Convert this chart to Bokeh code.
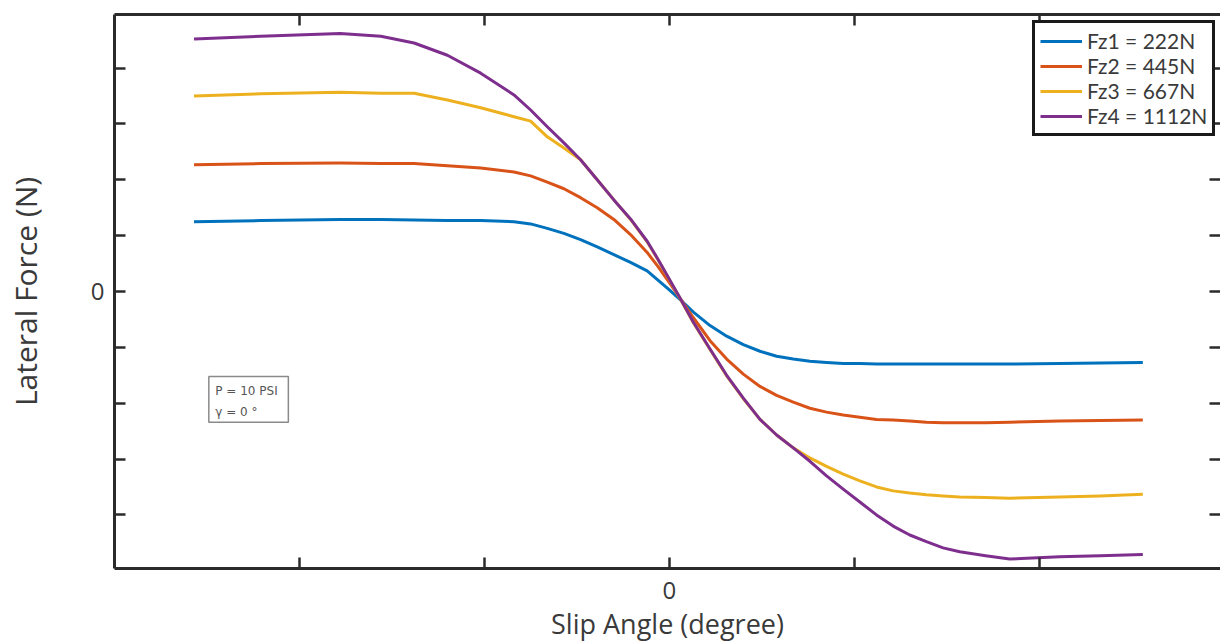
from bokeh.plotting import figure
from bokeh.models import Legend, LegendItem, LinearAxis, FixedTicker, BoxAnnotation, Label, Range1d
from bokeh.embed import file_html
from bokeh.resources import INLINE

# ---- data (slip angle and lateral force, in tick units; only 0 is labelled) ----
slip_angle = [-2.57, -2.21, -1.78, -1.56, -1.38, -1.20, -1.02, -0.84, -0.75, -0.66,
              -0.57, -0.48, -0.39, -0.30, -0.21, -0.12, -0.06, 0.00, 0.06, 0.13,
              0.22, 0.31, 0.40, 0.49, 0.58, 0.67, 0.76, 0.85, 0.94, 1.03,
              1.12, 1.21, 1.30, 1.39, 1.48, 1.57, 1.71, 1.84, 2.11, 2.33, 2.56]
fz1 = [1.25, 1.27, 1.29, 1.29, 1.28, 1.27, 1.27, 1.25, 1.21, 1.13,
       1.04, 0.93, 0.80, 0.66, 0.52, 0.37, 0.20, 0.03, -0.15, -0.37,
       -0.61, -0.80, -0.95, -1.07, -1.16, -1.21, -1.25, -1.27, -1.29, -1.29,
       -1.30, -1.30, -1.30, -1.30, -1.30, -1.30, -1.30, -1.30, -1.29, -1.28, -1.27]
fz2 = [2.27, 2.29, 2.30, 2.29, 2.29, 2.25, 2.21, 2.14, 2.07, 1.96,
       1.84, 1.68, 1.50, 1.29, 1.02, 0.70, 0.44, 0.16, -0.13, -0.47,
       -0.88, -1.21, -1.48, -1.70, -1.86, -1.98, -2.09, -2.16, -2.21, -2.25,
       -2.29, -2.30, -2.32, -2.34, -2.35, -2.35, -2.35, -2.34, -2.32, -2.31, -2.30]
fz3 = [3.50, 3.54, 3.57, 3.55, 3.55, 3.43, 3.29, 3.13, 3.05, 2.77,
       2.57, 2.36, 2.00, 1.64, 1.29, 0.89, 0.56, 0.21, -0.14, -0.56,
       -1.04, -1.51, -1.92, -2.29, -2.57, -2.80, -2.98, -3.13, -3.27, -3.39,
       -3.50, -3.57, -3.61, -3.64, -3.66, -3.68, -3.69, -3.70, -3.68, -3.66, -3.63]
fz4 = [4.52, 4.57, 4.62, 4.57, 4.45, 4.23, 3.91, 3.52, 3.25, 2.95,
       2.66, 2.36, 2.00, 1.64, 1.30, 0.90, 0.57, 0.22, -0.13, -0.55,
       -1.03, -1.50, -1.91, -2.29, -2.57, -2.80, -3.04, -3.30, -3.54, -3.77,
       -4.00, -4.20, -4.36, -4.48, -4.59, -4.66, -4.73, -4.79, -4.75, -4.73, -4.71]
series_names = ["Fz1 = 222N", "Fz2 = 445N", "Fz3 = 667N", "Fz4 = 1112N"]
series_values = [fz1, fz2, fz3, fz4]
series_colors = ["#0072BD", "#D95319", "#EDB120", "#7E2F8E"]
x_ticks = [-2, -1, 0, 1, 2]
y_ticks = [-4, -3, -2, -1, 0, 1, 2, 3, 4]
note_text = "P = 10 PSI\nγ = 0 °"

INK = "#2b2b2b"
TXT = "#3a3a3a"
FONT = "Open Sans"

p = figure(width=1220, height=644, output_backend="svg", toolbar_location=None,
           x_range=Range1d(-3.0, 2.98), y_range=Range1d(-4.96, 4.96),
           min_border_left=114, min_border_right=0, min_border_top=14, min_border_bottom=74)
p.background_fill_color = "white"
p.border_fill_color = "white"
p.outline_line_color = None
p.xgrid.visible = False
p.ygrid.visible = False

renderers = []
for name, vals, col in zip(series_names, series_values, series_colors):
    r = p.line(slip_angle, vals, line_color=col, line_width=3, line_join="round")
    renderers.append((name, r))


def style_axis(ax, ticks, show_labels, show_line=True):
    ax.ticker = FixedTicker(ticks=ticks)
    ax.major_tick_in = 11
    ax.major_tick_out = 0
    ax.minor_tick_in = 0
    ax.minor_tick_out = 0
    ax.major_tick_line_color = INK
    ax.major_tick_line_width = 2.5
    ax.axis_line_color = INK if show_line else None
    ax.axis_line_width = 3
    ax.major_label_text_color = TXT
    ax.major_label_text_font = FONT
    ax.major_label_text_font_size = "24px"
    ax.axis_label_text_color = TXT
    ax.axis_label_text_font = FONT
    ax.axis_label_text_font_size = "27px"
    ax.axis_label_text_font_style = "normal"
    ax.major_label_overrides = {t: ("0" if (t == 0 and show_labels) else "") for t in ticks}
    if not show_labels:
        ax.major_label_text_font_size = "0px"
        ax.major_label_standoff = 0


style_axis(p.xaxis[0], x_ticks, True)
style_axis(p.yaxis[0], y_ticks, True)
p.xaxis[0].axis_label = "Slip Angle (degree)"
p.xaxis[0].major_label_standoff = 13
p.xaxis[0].axis_label_standoff = 3
p.yaxis[0].axis_label = "Lateral Force (N)"
p.yaxis[0].axis_label_text_font_size = "30px"
p.yaxis[0].major_label_standoff = 10
p.yaxis[0].axis_label_standoff = 42

top_ax = LinearAxis()
style_axis(top_ax, x_ticks, False)
p.add_layout(top_ax, "above")
right_ax = LinearAxis()
style_axis(right_ax, y_ticks, False, show_line=False)
p.add_layout(right_ax, "right")

legend = Legend(items=[LegendItem(label=n, renderers=[r]) for n, r in renderers],
                location=(918, 432), margin=0, padding=5, spacing=0,
                glyph_width=42, glyph_height=20, label_height=25, label_standoff=5,
                label_text_font="Lato", label_text_font_size="21px", label_text_color=TXT,
                border_line_color="#1a1a1a", border_line_width=3, border_line_alpha=1.0,
                background_fill_color="white", background_fill_alpha=1.0)
p.add_layout(legend, "center")

box = BoxAnnotation(left=-2.49, right=-2.06, top=-1.52, bottom=-2.34,
                    fill_color="white", fill_alpha=1.0,
                    line_color="#8a8a8a", line_width=1.5, line_alpha=1.0)
p.add_layout(box)
note = Label(x=-2.455, y=-1.66, text=note_text, anchor="top_left",
             text_font="DejaVu Sans", text_font_size="12px", text_color="#555555",
             text_line_height=1.5)
p.add_layout(note)

open("out.html", "w").write(file_html(p, INLINE))
